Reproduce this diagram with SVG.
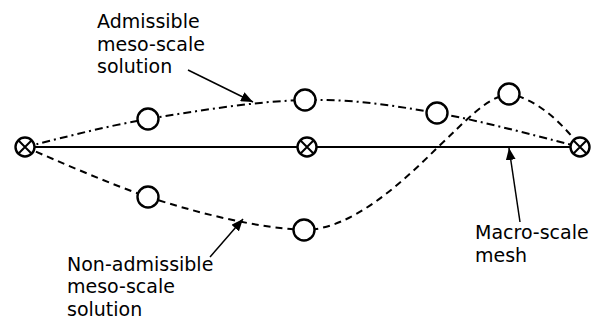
<svg xmlns="http://www.w3.org/2000/svg" width="597" height="320" viewBox="0 0 597 320">
  <style>
    .lbl { font-family: "DejaVu Sans", Verdana, sans-serif; font-size: 19px; fill: #000; }
    .mesh { fill: none; stroke: #000; stroke-width: 1.8; }
    .adm { fill: none; stroke: #000; stroke-width: 2; stroke-dasharray: 8 4 2 4; }
    .nonadm { fill: none; stroke: #000; stroke-width: 2; stroke-dasharray: 7 5; }
    .ptr { fill: none; stroke: #000; stroke-width: 1.5; }
    .pt { fill: #fff; stroke: #000; stroke-width: 2.4; }
    .cross { fill: none; stroke: #000; stroke-width: 2; }
  </style>
  <defs>
    <marker id="tip" viewBox="0 0 12 10" refX="12" refY="5" markerWidth="12" markerHeight="10" markerUnits="userSpaceOnUse" orient="auto">
      <path d="M0,0 L12,5 L0,10 Z" fill="#000"/>
    </marker>
  </defs>

  <!-- connectors: macro mesh, meso-scale solutions and label pointers -->
  <g id="connectors">
    <line class="mesh" x1="25" y1="147" x2="580" y2="147"/>
    <path class="adm" d="M25,147 C45.5,142.3 101.3,126.8 148,119 C194.7,111.2 256.8,101 305,100 C353.2,99 391.2,105.2 437,113 C482.8,120.8 556.2,141.3 580,147"/>
    <path class="nonadm" d="M25,147 C60,162 110,184 148,197 C195,212 255,228 304,230 C350,230 400,185 438,147 C466,121 485,98 509,94 C535,98 562,122 580,147"/>
    <line class="ptr" x1="188" y1="70" x2="253" y2="102" marker-end="url(#tip)"/>
    <line class="ptr" x1="210" y1="257" x2="243" y2="219" marker-end="url(#tip)"/>
    <line class="ptr" x1="520" y1="222" x2="509" y2="148" marker-end="url(#tip)"/>
  </g>

  <!-- macro-scale nodes -->
  <g id="macro-left">
    <circle class="pt" cx="25" cy="147" r="9.5"/>
    <path class="cross" d="M18.3,140.3 L31.7,153.7 M31.7,140.3 L18.3,153.7"/>
  </g>
  <g id="macro-mid">
    <circle class="pt" cx="307" cy="147" r="9.5"/>
    <path class="cross" d="M300.3,140.3 L313.7,153.7 M313.7,140.3 L300.3,153.7"/>
  </g>
  <g id="macro-right">
    <circle class="pt" cx="580" cy="147" r="9.5"/>
    <path class="cross" d="M573.3,140.3 L586.7,153.7 M586.7,140.3 L573.3,153.7"/>
  </g>

  <!-- meso-scale nodes, admissible -->
  <g id="adm-1"><circle class="pt" cx="148" cy="119" r="10.5"/></g>
  <g id="adm-2"><circle class="pt" cx="305" cy="100" r="10.5"/></g>
  <g id="adm-3"><circle class="pt" cx="437" cy="113" r="10.5"/></g>

  <!-- meso-scale nodes, non-admissible -->
  <g id="nonadm-1"><circle class="pt" cx="148" cy="197" r="10.5"/></g>
  <g id="nonadm-2"><circle class="pt" cx="304" cy="230" r="10.5"/></g>
  <g id="nonadm-3"><circle class="pt" cx="509" cy="94" r="10.5"/></g>

  <!-- labels -->
  <g id="label-admissible">
    <text class="lbl" x="97" y="28">Admissible</text>
    <text class="lbl" x="97" y="50.5">meso-scale</text>
    <text class="lbl" x="97" y="73">solution</text>
  </g>
  <g id="label-nonadmissible">
    <text class="lbl" x="67" y="270.5">Non-admissible</text>
    <text class="lbl" x="67" y="293">meso-scale</text>
    <text class="lbl" x="67" y="315.5">solution</text>
  </g>
  <g id="label-mesh">
    <text class="lbl" x="475" y="239">Macro-scale</text>
    <text class="lbl" x="475" y="261.5">mesh</text>
  </g>
</svg>
